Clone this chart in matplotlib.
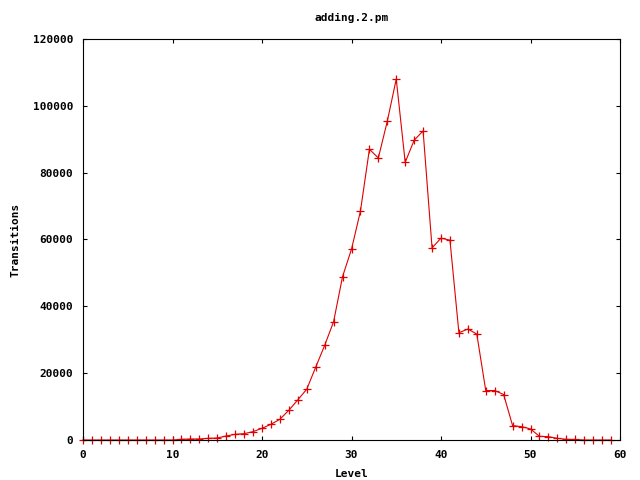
import matplotlib
matplotlib.use("Agg")
import matplotlib.pyplot as plt

# ==================== DATA ====================

levels = list(range(60))
transitions = [
    0, 0, 0, 0, 0, 0, 0, 0, 0, 0,
    0, 200, 300, 300, 500, 600, 1200, 1700, 1900, 2500,
    3500, 4700, 6200, 8900, 12000, 15200, 21800, 28300, 35400, 48900,
    57100, 68500, 87000, 84400, 95400, 108000, 83100, 89700, 92500, 57500,
    60400, 59800, 32100, 33200, 31700, 14800, 14800, 13600, 4300, 4000,
    3300, 1100, 1000, 500, 200, 150, 0, 0, 0, 0,
]

title = "adding.2.pm"
x_label = "Level"
y_label = "Transitions"

# ==================== PLOT ====================

font = {"family": "DejaVu Sans Mono", "weight": "bold", "size": 8}

fig = plt.figure(figsize=(6.4, 4.8), dpi=100)
ax = fig.add_axes([83 / 640, 40 / 480, 537 / 640, 401 / 480])

ax.plot(levels, transitions, color="#e00000", linewidth=0.8,
        marker="+", markersize=6, markeredgewidth=0.9, clip_on=False)

ax.set_xlim(0, 60)
ax.set_ylim(0, 120000)
ax.set_xticks(range(0, 61, 10))
ax.set_yticks(range(0, 120001, 20000))
ax.tick_params(direction="in", length=3, width=0.8, top=True, right=True)
ax.tick_params(axis="x", pad=7)
ax.tick_params(axis="y", pad=7)
for lbl in ax.get_xticklabels() + ax.get_yticklabels():
    lbl.set_fontfamily(font["family"])
    lbl.set_fontweight(font["weight"])
    lbl.set_fontsize(font["size"])

for spine in ax.spines.values():
    spine.set_linewidth(0.8)

ax.set_title(title, fontdict=font, pad=13)
ax.set_xlabel(x_label, fontdict=font, labelpad=7)
ax.set_ylabel(y_label, fontdict=font, labelpad=9)

fig.savefig("out.png", dpi=100)
